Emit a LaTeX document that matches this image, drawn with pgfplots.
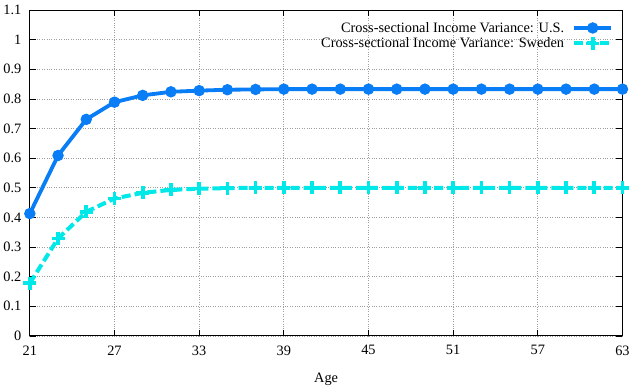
\documentclass[border=0pt]{standalone}
\usepackage{fontspec}
\setmainfont{Liberation Serif}
\usepackage{pgfplots}
\pgfplotsset{compat=1.18}
\definecolor{usblue}{RGB}{8,125,245}
\definecolor{swcyan}{RGB}{0,232,232}
\begin{document}
\begin{tikzpicture}
\begin{axis}[
  name=ax,
  scale only axis,
  width=591pt, height=325pt,
  xmin=21, xmax=63, ymin=0, ymax=1.1,
  /pgf/number format/assume math mode=true,
  xtick={21,27,...,63},
  ytick={0,0.1,...,1.1},
  yticklabels={0,0.1,0.2,0.3,0.4,0.5,0.6,0.7,0.8,0.9,1,1.1},
  xticklabels={21,27,33,39,45,51,57,63},
  tick align=inside,
  major tick length=6pt,
  xmajorgrids, ymajorgrids,
  grid style={dotted, gray!75, line width=0.7pt},
  axis line style={line width=1pt},
  tick style={black, line width=0.7pt},
  every tick label/.append style={font=\fontsize{14.3}{16}\selectfont},
  xlabel={Age},
  xlabel style={font=\fontsize{14.3}{16}\selectfont, yshift=-11pt},
  yticklabel style={xshift=-5pt},
  xticklabel style={yshift=-6pt},
  legend style={at={(1,1)}, anchor=north east, xshift=-8pt, yshift=-9pt, draw=none, fill=none,
    font=\fontsize{14.3}{16}\selectfont, row sep=0pt, column sep=6pt, inner sep=1pt},
  legend cell align=right,
  legend plot pos=right,
  legend image code/.code={
    \draw[#1] (0cm,0cm) -- (1.3cm,0cm);
    \draw[#1, only marks] plot coordinates {(0.65cm,0cm)};
  },
]
\addplot[color=usblue, line width=3.8pt, mark=*, mark size=5.2pt, mark options={solid, fill=usblue, line width=1pt}] coordinates {
(21,0.413) (23,0.609) (25,0.731) (27,0.789) (29,0.812) (31,0.824) (33,0.828) (35,0.831) (37,0.832)
(39,0.833) (41,0.833) (43,0.833) (45,0.833) (47,0.833) (49,0.833) (51,0.833) (53,0.833) (55,0.833)
(57,0.833) (59,0.833) (61,0.833) (63,0.833)
};
\addlegendentry{Cross-sectional Income Variance: U.S.}
\addplot[color=swcyan, line width=4pt, dash pattern=on 9pt off 4pt, mark=+, mark size=6.5pt, mark options={solid, line width=3.6pt}] coordinates {
(21,0.178) (23,0.329) (25,0.419) (27,0.464) (29,0.483) (31,0.493) (33,0.497) (35,0.499) (37,0.5)
(39,0.5) (41,0.5) (43,0.5) (45,0.5) (47,0.5) (49,0.5) (51,0.5) (53,0.5) (55,0.5)
(57,0.5) (59,0.5) (61,0.5) (63,0.5)
};
\addlegendentry{Cross-sectional Income Variance: Sweden}
\end{axis}
\path ([yshift=10pt]ax.north);
\end{tikzpicture}
\end{document}
